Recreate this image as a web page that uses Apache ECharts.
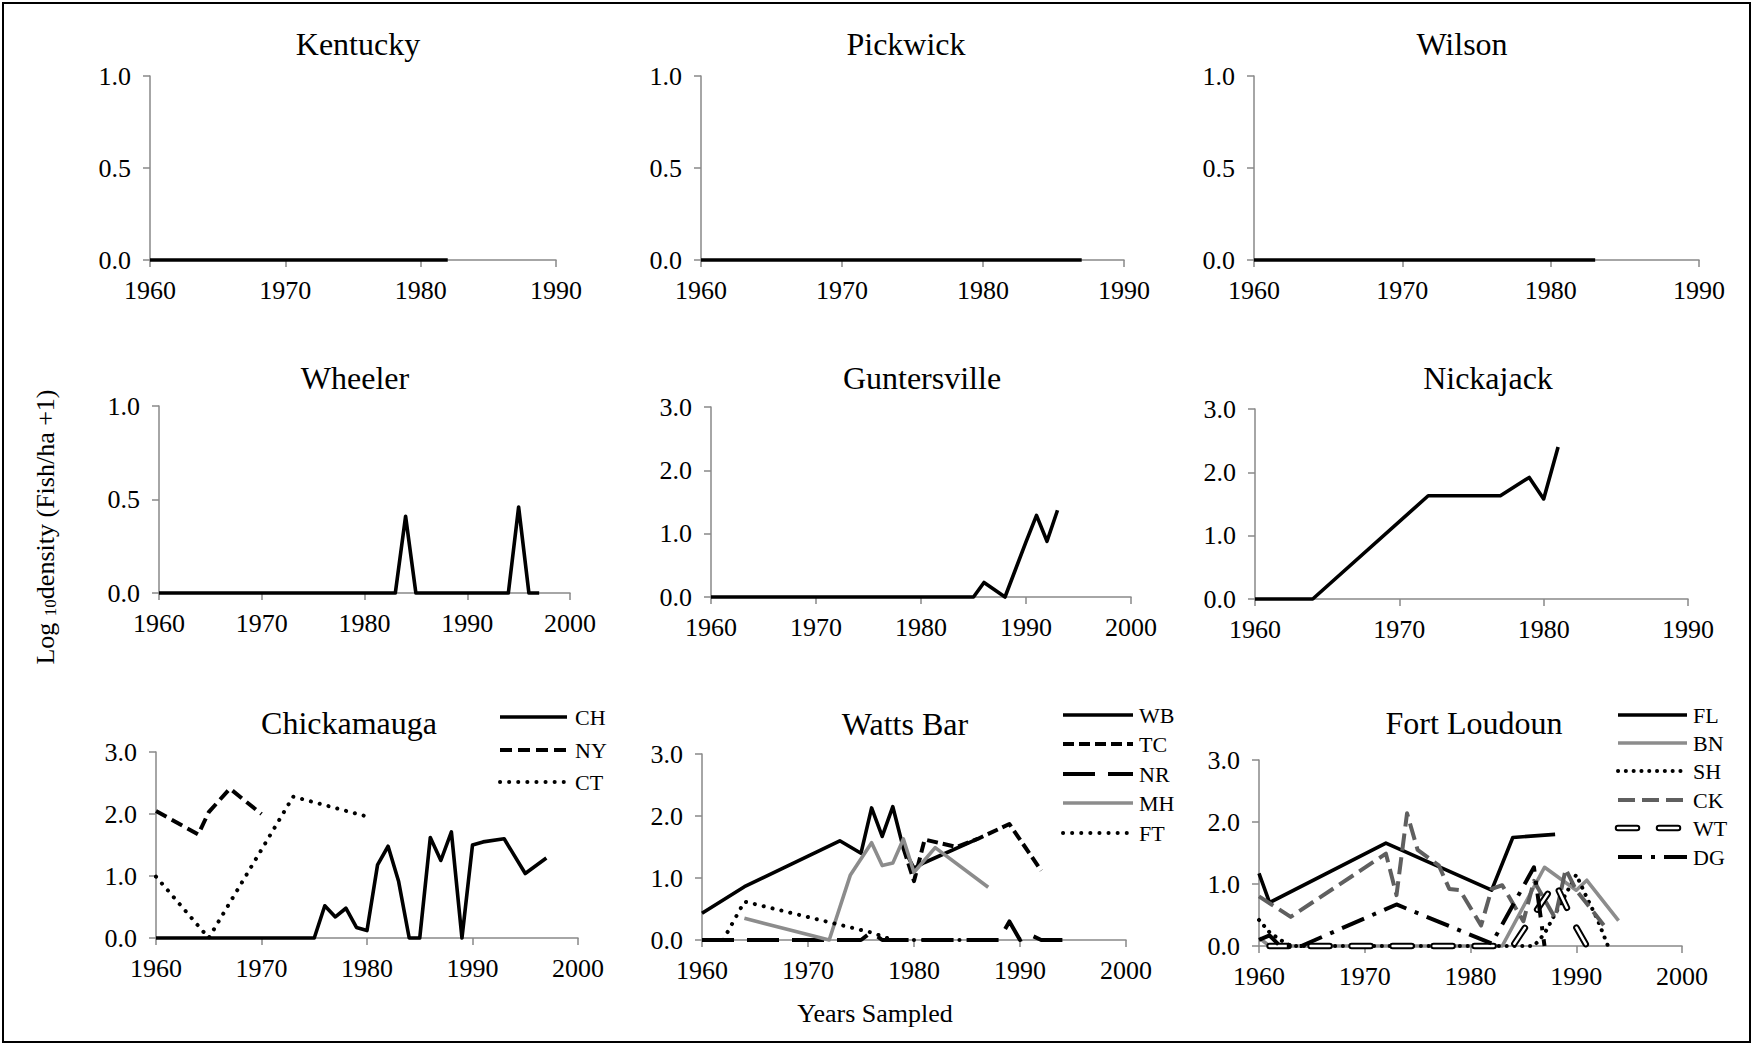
<!DOCTYPE html>
<html><head><meta charset="utf-8">
<script src="https://cdn.jsdelivr.net/npm/echarts@6/dist/echarts.min.js"></script>
<style>html,body{margin:0;padding:0;background:#fff}#c{width:1753px;height:1045px}</style>
</head><body><div id="c"></div>
<script>
// ---------------- DATA ----------------
const kentuckyYears = [1960, 1982];
const kentuckyDensity = [0, 0];
const pickwickYears = [1960, 1987];
const pickwickDensity = [0, 0];
const wilsonYears = [1960, 1983];
const wilsonDensity = [0, 0];
const wheelerYears = [1960, 1983, 1984, 1985, 1994, 1995, 1996, 1997];
const wheelerDensity = [0, 0, 0.41, 0, 0, 0.46, 0, 0];
const guntersvilleYears = [1960, 1985, 1986, 1988, 1990, 1991, 1992, 1993];
const guntersvilleDensity = [0, 0, 0.23, 0, 0.87, 1.29, 0.88, 1.37];
const nickajackYears = [1960, 1964, 1972, 1977, 1979, 1980, 1981];
const nickajackDensity = [0, 0, 1.63, 1.63, 1.92, 1.58, 2.40];

// Chickamauga
const chYears = [1960, 1975, 1976, 1977, 1978, 1979, 1980, 1981, 1982, 1983, 1984, 1985, 1986, 1987, 1988, 1989, 1990, 1991, 1993, 1995, 1997];
const chDensity = [0, 0, 0.52, 0.34, 0.48, 0.17, 0.12, 1.18, 1.48, 0.91, 0, 0, 1.62, 1.25, 1.71, 0, 1.50, 1.55, 1.60, 1.04, 1.29];
const nyYears = [1960, 1964, 1965, 1967, 1970];
const nyDensity = [2.05, 1.67, 2.03, 2.41, 2.00];
const ctYears = [1960, 1965, 1973, 1980];
const ctDensity = [0.99, 0, 2.28, 1.96];

// Watts Bar
const wbYears = [1960, 1964, 1973, 1975, 1976, 1977, 1978, 1979, 1980, 1981, 1986];
const wbDensity = [0.43, 0.86, 1.60, 1.40, 2.13, 1.67, 2.15, 1.48, 1.16, 1.25, 1.63];
const tcYears = [1979, 1980, 1981, 1984, 1986, 1989, 1992];
const tcDensity = [1.48, 0.95, 1.62, 1.50, 1.63, 1.87, 1.12];
const nrYears = [1960, 1975, 1976, 1977, 1988, 1989, 1990, 1991, 1992, 1994];
const nrDensity = [0, 0, 0.13, 0, 0, 0.30, 0, 0.08, 0, 0];
const mhYears = [1964, 1972, 1974, 1976, 1977, 1978, 1979, 1980, 1982, 1987];
const mhDensity = [0.35, 0, 1.05, 1.57, 1.20, 1.24, 1.63, 1.09, 1.49, 0.85];
const ftYears = [1962, 1964, 1976, 1978, 1985];
const ftDensity = [0, 0.62, 0.12, 0, 0];

// Fort Loudoun
const flYears = [1960, 1961, 1972, 1982, 1984, 1988];
const flDensity = [1.17, 0.70, 1.66, 0.90, 1.75, 1.80];
const bnYears = [1960, 1961, 1983, 1987, 1990, 1991, 1994];
const bnDensity = [0.13, 0, 0, 1.27, 0.90, 1.06, 0.41];
const shYears = [1960, 1961, 1962, 1963, 1986, 1987, 1990, 1991, 1992, 1993];
const shDensity = [0.42, 0.22, 0.10, 0, 0, 0.20, 1.15, 0.78, 0.43, 0];
const ckYears = [1960, 1963, 1972, 1973, 1974, 1975, 1977, 1978, 1979, 1981, 1982, 1983, 1985, 1986, 1988, 1989, 1990, 1993];
const ckDensity = [0.80, 0.47, 1.49, 0.82, 2.14, 1.55, 1.30, 0.92, 0.90, 0.33, 0.92, 0.98, 0.40, 1.05, 0.45, 1.24, 0.90, 0.25];
const wtYears = [1961, 1984, 1988, 1990, 1991];
const wtDensity = [0, 0, 1.02, 0.30, 0];
const dgYears = [1960, 1961, 1962, 1964, 1973, 1978, 1982, 1986, 1987];
const dgDensity = [0.10, 0.17, 0, 0, 0.67, 0.32, 0.04, 1.27, 0];

// Axis tick values / labels
const yearTicksTo1990 = [1960, 1970, 1980, 1990];
const yearTicksTo2000 = [1960, 1970, 1980, 1990, 2000];
const densityTicksSmall = [0.0, 0.5, 1.0];
const densityTicksLarge = [0.0, 1.0, 2.0, 3.0];

const panelTitles = ['Kentucky', 'Pickwick', 'Wilson', 'Wheeler', 'Guntersville', 'Nickajack', 'Chickamauga', 'Watts Bar', 'Fort Loudoun'];
const yAxisTitle = 'Log {sub|10}density (Fish/ha +1)';
const xAxisTitle = 'Years Sampled';

// ---------------- LAYOUT & STYLE ----------------
const FONT = '"Liberation Serif","Times New Roman",serif';
const AXIS_GRAY = '#898989';
const TICK_FONT = 26;

const layout = [
  {tx: 358, ty: 44, left: 150, top: 76, width: 406, height: 184, xt: yearTicksTo1990, yt: densityTicksSmall},
  {tx: 906, ty: 44, left: 701, top: 76, width: 423, height: 184, xt: yearTicksTo1990, yt: densityTicksSmall},
  {tx: 1462, ty: 44, left: 1254, top: 76, width: 445, height: 184, xt: yearTicksTo1990, yt: densityTicksSmall},
  {tx: 355, ty: 378, left: 159, top: 406, width: 411, height: 187, xt: yearTicksTo2000, yt: densityTicksSmall},
  {tx: 922, ty: 378, left: 711, top: 407, width: 420, height: 190, xt: yearTicksTo2000, yt: densityTicksLarge},
  {tx: 1488, ty: 378, left: 1255, top: 409, width: 433, height: 190, xt: yearTicksTo1990, yt: densityTicksLarge},
  {tx: 349, ty: 723, left: 156, top: 752, width: 422, height: 186, xt: yearTicksTo2000, yt: densityTicksLarge},
  {tx: 905, ty: 724, left: 702, top: 754, width: 424, height: 186, xt: yearTicksTo2000, yt: densityTicksLarge},
  {tx: 1474, ty: 723, left: 1259, top: 760, width: 423, height: 186, xt: yearTicksTo2000, yt: densityTicksLarge}
];

const STY = {
  solid:      {color: '#000', width: 3.6, type: 'solid', cap: 'butt'},
  dashed:     {color: '#000', width: 4, type: [12, 6], cap: 'butt'},
  dotted:     {color: '#000', width: 4, type: [0.1, 9], cap: 'round'},
  dottedTight:{color: '#000', width: 4, type: [0.1, 7.7], cap: 'round'},
  tcDash:     {color: '#000', width: 4, type: [11, 5], cap: 'butt'},
  longDash:   {color: '#000', width: 4, type: [32, 13], cap: 'butt'},
  graySolid:  {color: '#8c8c8c', width: 3.6, type: 'solid', cap: 'butt'},
  grayDash:   {color: '#5f5f5f', width: 4, type: [17, 7], cap: 'butt'},
  dashDot:    {color: '#000', width: 4, type: [24, 9, 4, 9], cap: 'butt'},
  hollowOut:  {color: '#000', width: 6.5, type: [19, 22], cap: 'round'},
  hollowIn:   {color: '#fff', width: 2.5, type: [19, 22], cap: 'round'}
};

const seriesDefs = [
  {p: 0, name: 'Kentucky', x: kentuckyYears, y: kentuckyDensity, s: 'solid'},
  {p: 1, name: 'Pickwick', x: pickwickYears, y: pickwickDensity, s: 'solid'},
  {p: 2, name: 'Wilson', x: wilsonYears, y: wilsonDensity, s: 'solid'},
  {p: 3, name: 'Wheeler', x: wheelerYears, y: wheelerDensity, s: 'solid'},
  {p: 4, name: 'Guntersville', x: guntersvilleYears, y: guntersvilleDensity, s: 'solid'},
  {p: 5, name: 'Nickajack', x: nickajackYears, y: nickajackDensity, s: 'solid'},
  {p: 6, name: 'CH', x: chYears, y: chDensity, s: 'solid'},
  {p: 6, name: 'NY', x: nyYears, y: nyDensity, s: 'dashed'},
  {p: 6, name: 'CT', x: ctYears, y: ctDensity, s: 'dotted'},
  {p: 7, name: 'WB', x: wbYears, y: wbDensity, s: 'solid'},
  {p: 7, name: 'TC', x: tcYears, y: tcDensity, s: 'tcDash'},
  {p: 7, name: 'NR', x: nrYears, y: nrDensity, s: 'longDash'},
  {p: 7, name: 'MH', x: mhYears, y: mhDensity, s: 'graySolid'},
  {p: 7, name: 'FT', x: ftYears, y: ftDensity, s: 'dotted'},
  {p: 8, name: 'FL', x: flYears, y: flDensity, s: 'solid'},
  {p: 8, name: 'BN', x: bnYears, y: bnDensity, s: 'graySolid'},
  {p: 8, name: 'SH', x: shYears, y: shDensity, s: 'dottedTight'},
  {p: 8, name: 'CK', x: ckYears, y: ckDensity, s: 'grayDash'},
  {p: 8, name: 'WT', x: wtYears, y: wtDensity, s: 'hollowOut'},
  {p: 8, name: 'WT inner', x: wtYears, y: wtDensity, s: 'hollowIn'},
  {p: 8, name: 'DG', x: dgYears, y: dgDensity, s: 'dashDot'}
];

const legends = [
  {x1: 500, x2: 567, tx: 575, rows: [717, 750, 782], items: [['CH', ['solid']], ['NY', ['dashed']], ['CT', ['dotted']]]},
  {x1: 1063, x2: 1133, tx: 1139, rows: [715, 744, 774, 803, 833], items: [['WB', ['solid']], ['TC', ['tcDash']], ['NR', ['longDash']], ['MH', ['graySolid']], ['FT', ['dotted']]]},
  {x1: 1618, x2: 1687, tx: 1693, rows: [715, 743, 771, 800, 828, 857], items: [['FL', ['solid']], ['BN', ['graySolid']], ['SH', ['dottedTight']], ['CK', ['grayDash']], ['WT', ['hollowOut', 'hollowIn']], ['DG', ['dashDot']]]}
];

// ---------------- BUILD OPTION ----------------
const grids = [], xAxes = [], yAxes = [], titles = [];
layout.forEach((L, i) => {
  grids.push({left: L.left, top: L.top, width: L.width, height: L.height, containLabel: false, outerBoundsMode: 'none'});
  const xt = L.xt, yt = L.yt;
  xAxes.push({
    type: 'value', gridIndex: i, min: xt[0], max: xt[xt.length - 1], interval: xt[1] - xt[0],
    axisLine: {show: true, onZero: false, lineStyle: {color: AXIS_GRAY, width: 1.5}},
    axisTick: {show: true, inside: false, length: 7, lineStyle: {color: AXIS_GRAY, width: 1.5}},
    axisLabel: {show: true, margin: 17, color: '#000', fontFamily: FONT, fontSize: TICK_FONT,
      showMinLabel: true, showMaxLabel: true, hideOverlap: false, formatter: v => String(v)},
    splitLine: {show: false}
  });
  yAxes.push({
    type: 'value', gridIndex: i, min: yt[0], max: yt[yt.length - 1], interval: yt[1] - yt[0],
    axisLine: {show: true, onZero: false, lineStyle: {color: AXIS_GRAY, width: 1.5}},
    axisTick: {show: true, inside: false, length: 7, lineStyle: {color: AXIS_GRAY, width: 1.5}},
    axisLabel: {show: true, margin: 19, color: '#000', fontFamily: FONT, fontSize: TICK_FONT,
      showMinLabel: true, showMaxLabel: true, hideOverlap: false, formatter: v => v.toFixed(1)},
    splitLine: {show: false}
  });
  titles.push({
    text: panelTitles[i], left: L.tx, top: L.ty, textAlign: 'center', textVerticalAlign: 'middle', padding: 0,
    textStyle: {fontFamily: FONT, fontSize: 32, fontWeight: 'normal', color: '#000'}
  });
});

const series = seriesDefs.map(d => {
  const st = STY[d.s];
  return {
    type: 'line', name: d.name, xAxisIndex: d.p, yAxisIndex: d.p,
    data: d.x.map((yr, j) => [yr, d.y[j]]),
    symbol: 'none', showSymbol: false, clip: false, silent: true, animation: false,
    z: 2,
    lineStyle: {color: st.color, width: st.width, type: st.type, cap: st.cap, join: 'round'}
  };
});

const graphics = [];
// outer frame
graphics.push({type: 'rect', silent: true, shape: {x: 3, y: 3, width: 1747, height: 1039},
  style: {fill: 'none', stroke: '#000', lineWidth: 2}});
// legends
legends.forEach(Lg => {
  Lg.items.forEach((it, r) => {
    const yy = Lg.rows[r];
    it[1].forEach(key => {
      const st = STY[key];
      graphics.push({type: 'line', silent: true, z: 10,
        shape: {x1: Lg.x1, y1: yy, x2: Lg.x2, y2: yy},
        style: {stroke: st.color, lineWidth: st.width, lineDash: Array.isArray(st.type) ? st.type : null, lineCap: st.cap}});
    });
    graphics.push({type: 'text', silent: true, z: 10, x: Lg.tx, y: yy,
      style: {text: it[0], fontFamily: FONT, fontSize: 22, fill: '#000', align: 'left', verticalAlign: 'middle', textAlign: 'left', textVerticalAlign: 'middle'}});
  });
});
// axis titles
graphics.push({type: 'text', silent: true, x: 45, y: 527, rotation: Math.PI / 2,
  style: {text: yAxisTitle, fontFamily: FONT, fontSize: 26, fill: '#000', align: 'center', verticalAlign: 'middle',
    textAlign: 'center', textVerticalAlign: 'middle',
    rich: {sub: {fontFamily: FONT, fontSize: 17, fill: '#000', verticalAlign: 'bottom', padding: [10, 0, 0, 0]}}}});
graphics.push({type: 'text', silent: true, x: 875, y: 1013,
  style: {text: xAxisTitle, fontFamily: FONT, fontSize: 26, fill: '#000', align: 'center', verticalAlign: 'middle',
    textAlign: 'center', textVerticalAlign: 'middle'}});

const chart = echarts.init(document.getElementById('c'), null, {renderer: 'svg', width: 1753, height: 1045});
chart.setOption({
  backgroundColor: '#ffffff',
  animation: false,
  title: titles,
  grid: grids,
  xAxis: xAxes,
  yAxis: yAxes,
  series: series,
  graphic: {elements: graphics}
});
</script></body></html>
